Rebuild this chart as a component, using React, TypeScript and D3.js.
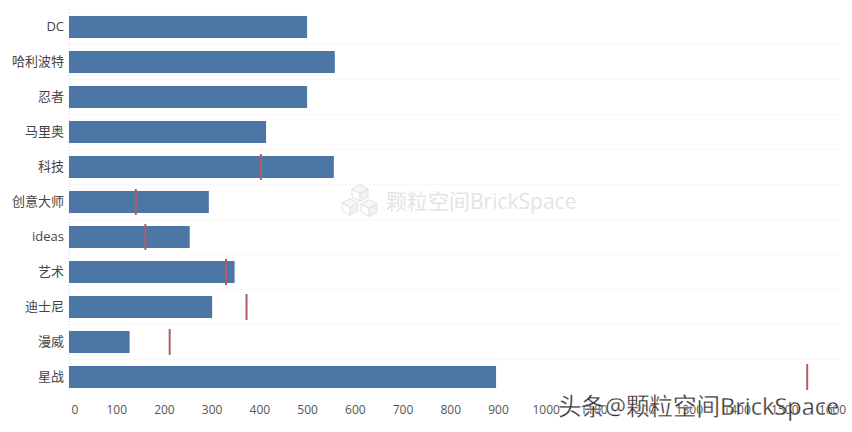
import React from "react";
import * as d3 from "d3";

const categories = ["DC", "哈利波特", "忍者", "马里奥", "科技", "创意大师", "ideas", "艺术", "迪士尼", "漫威", "星战"];
const barValues = [499, 557, 499, 413, 555, 293, 253, 347, 300, 127, 895];
const refValues: (number | null)[] = [null, null, null, null, 402, 140, 160, 329, 372, 211, 1547];
const tickValues = [0, 100, 200, 300, 400, 500, 600, 700, 800, 900, 1000, 1100, 1200, 1300, 1400, 1500, 1600];

const FONT = "'Open Sans', 'Noto Sans CJK SC', sans-serif";

function Cube({ cx, cy, r }: { cx: number; cy: number; r: number }) {
  const h = r * 0.55;
  const top = `${cx},${cy - h} ${cx + r},${cy} ${cx},${cy + h} ${cx - r},${cy}`;
  const left = `${cx - r},${cy} ${cx},${cy + h} ${cx},${cy + h + r} ${cx - r},${cy + r}`;
  const right = `${cx + r},${cy} ${cx},${cy + h} ${cx},${cy + h + r} ${cx + r},${cy + r}`;
  return (
    <g stroke="#e2e2e2" strokeWidth={1}>
      <polygon points={top} fill="#f7f7f7" />
      <polygon points={left} fill="#fff" />
      <polygon points={right} fill="#f1f1f1" />
    </g>
  );
}

export default function App() {
  const x = d3.scaleLinear().domain([0, 1600]).range([69, 832.5]);
  const y = d3.scaleBand<string>().domain(categories).range([9.5, 394.5]).paddingInner(0.37).paddingOuter(0.185);
  const step = y.step();
  const bw = y.bandwidth();
  return (
    <svg width={852} height={432} style={{ position: "fixed", left: 0, top: 0, background: "#fff" }} fontFamily={FONT}>
      <line x1={69} x2={69} y1={9} y2={394} stroke="#d4d4d4" strokeDasharray="1 2" />
      {categories.map((c, i) => {
        const rowBottom = (y(c) as number) + bw + (step - bw) / 2;
        return i < categories.length - 1 ? (
          <line key={c} x1={69} x2={840} y1={rowBottom} y2={rowBottom} stroke="#f1f1f1" strokeDasharray="2 2" />
        ) : null;
      })}
      {categories.map((c, i) => (
        <rect key={c} x={x(0)} y={y(c)} width={x(barValues[i]) - x(0)} height={bw} fill="#4c77a5" />
      ))}
      {categories.map((c, i) => {
        const v = refValues[i];
        if (v === null) return null;
        const yy = y(c) as number;
        return <line key={c} x1={x(v)} x2={x(v)} y1={yy - 2} y2={yy + bw + 2} stroke="#b45c66" strokeWidth={2} />;
      })}
      {categories.map((c) => (
        <text key={c} x={64} y={(y(c) as number) + bw / 2 - 1} dy="0.35em" textAnchor="end" fontSize={13} fill="#444">{c}</text>
      ))}
      {tickValues.map((t) => (
        <text key={t} x={t === 0 ? 75 : x(t)} y={410} dy="0.35em" textAnchor="middle" fontSize={12} fill="#555">{t}</text>
      ))}
      <Cube cx={360} cy={189} r={8} />
      <Cube cx={350} cy={203} r={8} />
      <Cube cx={369} cy={204} r={8} />
      <text x={386} y={202} dy="0.35em" fontSize={21} fill="#e4e4e4">颗粒空间BrickSpace</text>
      <text x={558} y={407} dy="0.35em" fontSize={23.5} fill="#2f2f2f" stroke="#fff" strokeWidth={0.3}>头条@颗粒空间BrickSpace</text>
    </svg>
  );
}
